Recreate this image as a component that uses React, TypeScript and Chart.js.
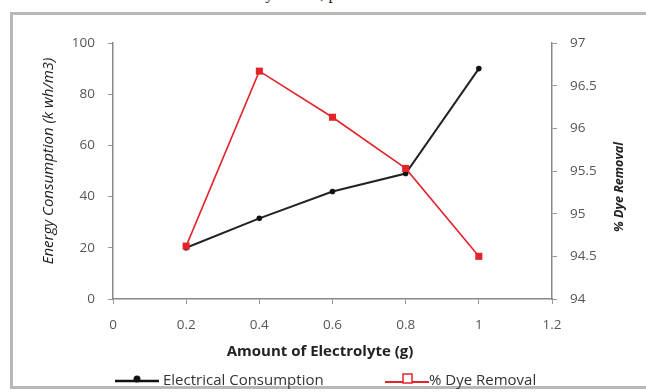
import React, { useEffect, useRef } from "react";
import { Chart, registerables } from "chart.js";

Chart.register(...registerables);

const amounts = [0.2, 0.4, 0.6, 0.8, 1.0];
const energy = [20, 31.5, 42, 49, 90];
const dyeRemoval = [94.62, 96.67, 96.13, 95.53, 94.5];

const xTitle = "Amount of Electrolyte (g)";
const yLeftTitle = "Energy Consumption (k wh/m3)";
const yRightTitle = "% Dye Removal";
const seriesNames = ["Electrical Consumption", "% Dye Removal"];
const captionText = "Conductivity at 100, pH 7";

const FONT = "'Open Sans', 'Liberation Sans', sans-serif";

const fmt = (v: any) => String(Math.round(Number(v) * 100) / 100);

export default function App() {
  const ref = useRef<HTMLCanvasElement | null>(null);

  useEffect(() => {
    if (!ref.current) return;
    const tickFont = { family: FONT, size: 13.5 };
    const chart = new Chart(ref.current, {
      type: "line",
      data: {
        datasets: [
          {
            label: seriesNames[1],
            data: amounts.map((x, i) => ({ x, y: dyeRemoval[i] })),
            yAxisID: "y1",
            borderColor: "#e3242b",
            backgroundColor: "#e3242b",
            borderWidth: 1.6,
            pointStyle: "rect",
            pointRadius: 5,
            pointBorderWidth: 0,
            order: 0,
          },
          {
            label: seriesNames[0],
            data: amounts.map((x, i) => ({ x, y: energy[i] })),
            yAxisID: "y",
            borderColor: "#222",
            backgroundColor: "#111",
            borderWidth: 2,
            pointStyle: "circle",
            pointRadius: 2.8,
            pointBorderWidth: 0,
            order: 1,
          },
        ],
      },
      options: {
        responsive: false,
        animation: false,
        devicePixelRatio: 1,
        layout: { padding: { left: 0, right: 0, top: 43, bottom: 0 } },
        plugins: { legend: { display: false }, tooltip: { enabled: false } },
        scales: {
          x: {
            type: "linear",
            min: 0,
            max: 1.2,
            ticks: { stepSize: 0.2, font: tickFont, color: "#555", padding: 13, callback: fmt },
            grid: { drawOnChartArea: false, drawTicks: true, tickLength: 5, color: "#999" },
            border: { display: true, color: "#888", width: 1.5 },
            afterFit: (s: any) => {
              s.height = 93;
            },
          },
          y: {
            type: "linear",
            position: "left",
            min: 0,
            max: 100,
            ticks: { stepSize: 20, font: tickFont, color: "#555", padding: 13, callback: fmt },
            grid: { drawOnChartArea: false, drawTicks: true, tickLength: 5, color: "#999" },
            border: { display: true, color: "#888", width: 1.5 },
            afterFit: (s: any) => {
              s.width = 113;
            },
          },
          y1: {
            type: "linear",
            position: "right",
            min: 94,
            max: 97,
            ticks: { stepSize: 0.5, font: tickFont, color: "#555", padding: 13, callback: fmt },
            grid: { drawOnChartArea: false, drawTicks: true, tickLength: 5, color: "#999" },
            border: { display: true, color: "#888", width: 1.5 },
            afterFit: (s: any) => {
              s.width = 94;
            },
          },
        },
      },
    });
    return () => chart.destroy();
  }, []);

  return (
    <div
      style={{
        position: "absolute",
        left: 0,
        top: 0,
        width: 646,
        height: 392,
        overflow: "hidden",
        background: "#fff",
        fontFamily: FONT,
      }}
    >
      <div
        style={{
          position: "absolute",
          left: 0,
          top: 0,
          width: 646,
          height: 9,
          overflow: "hidden",
        }}
      >
        <div
          style={{
            position: "absolute",
            left: 185,
            top: -16,
            fontFamily: "'Liberation Serif', serif",
            fontSize: 17,
            whiteSpace: "nowrap",
            color: "#222",
          }}
        >
          {captionText}
        </div>
      </div>
      <canvas ref={ref} width={646} height={392} style={{ position: "absolute", left: 0, top: 0 }} />
      <div
        style={{
          position: "absolute",
          left: 10,
          top: 12,
          width: 700,
          height: 377,
          border: "3px solid #b8b8b8",
          boxSizing: "border-box",
          pointerEvents: "none",
        }}
      />
      <div
        style={{
          position: "absolute",
          left: 47,
          top: 161,
          transform: "translate(-50%, -50%) rotate(-90deg)",
          fontStyle: "italic",
          fontSize: 15,
          color: "#222",
          whiteSpace: "nowrap",
        }}
      >
        {yLeftTitle}
      </div>
      <div
        style={{
          position: "absolute",
          left: 618,
          top: 187,
          transform: "translate(-50%, -50%) rotate(-90deg)",
          fontStyle: "italic",
          fontWeight: "bold",
          fontSize: 12.5,
          color: "#222",
          whiteSpace: "nowrap",
        }}
      >
        {yRightTitle}
      </div>
      <div
        style={{
          position: "absolute",
          left: 320,
          top: 350,
          transform: "translate(-50%, -50%)",
          fontWeight: "bold",
          fontSize: 15,
          color: "#222",
          whiteSpace: "nowrap",
        }}
      >
        {xTitle}
      </div>
      <div style={{ position: "absolute", left: 115, top: 369, height: 20, display: "flex", alignItems: "center" }}>
        <svg width={44} height={14}>
          <line x1={0} y1={9} x2={44} y2={9} stroke="#111" strokeWidth={2.5} />
          <circle cx={22} cy={7} r={3.5} fill="#111" />
        </svg>
        <span style={{ marginLeft: 4, fontSize: 15, color: "#333", whiteSpace: "nowrap" }}>{seriesNames[0]}</span>
      </div>
      <div style={{ position: "absolute", left: 385, top: 369, height: 20, display: "flex", alignItems: "center" }}>
        <svg width={44} height={14}>
          <line x1={0} y1={10} x2={44} y2={10} stroke="#e3242b" strokeWidth={1.8} />
          <rect x={18} y={2} width={9} height={9} fill="#fff" stroke="#e3242b" strokeWidth={1.5} />
        </svg>
        <span style={{ marginLeft: 0, fontSize: 15, color: "#333", whiteSpace: "nowrap" }}>{seriesNames[1]}</span>
      </div>
    </div>
  );
}
